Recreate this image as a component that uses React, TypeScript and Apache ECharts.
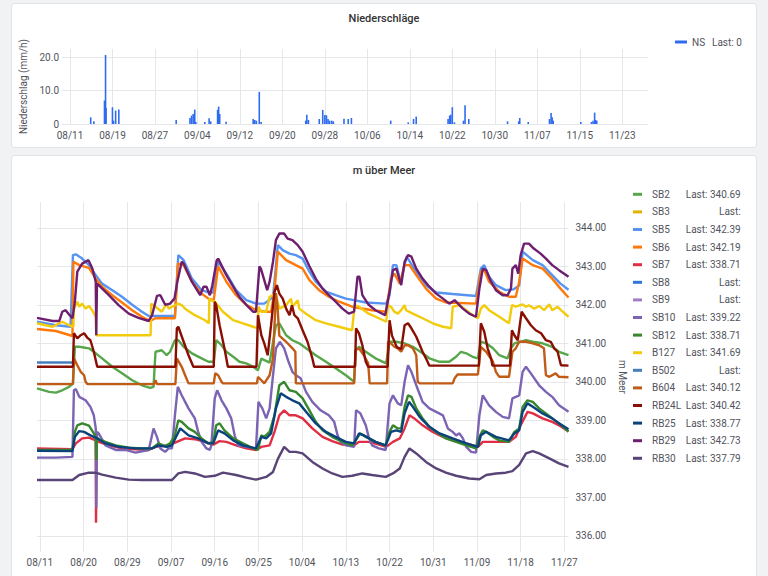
import React, { useEffect, useRef } from "react";
import * as echarts from "echarts";

// ---- axis ticks (x in days since 08/11) ----
const topTickDays = [0, 8, 16, 24, 32, 40, 48, 56, 64, 72, 80, 88, 96, 104];
const topTickLabels = ["08/11", "08/19", "08/27", "09/04", "09/12", "09/20", "09/28", "10/06", "10/14", "10/22", "10/30", "11/07", "11/15", "11/23"];
const bottomTickDays = [0, 9, 18, 27, 36, 45, 54, 63, 72, 81, 90, 99, 108];
const bottomTickLabels = ["08/11", "08/20", "08/29", "09/07", "09/16", "09/25", "10/04", "10/13", "10/22", "10/31", "11/09", "11/18", "11/27"];
const precipTicks = [0, 10, 20];
const levelTicks = [336, 337, 338, 339, 340, 341, 342, 343, 344];

// ---- precipitation (mm/h) ----
const nsData = [
  [3.9, 2.0], [4.5, 0.8], [6.5, 7.0], [6.7, 20.6], [6.8, 4.8], [8.0, 5.0], [8.2, 1.0], [8.6, 4.0], [9.2, 4.3],
  [20.0, 1.2], [22.6, 1.8], [22.9, 2.5], [23.2, 3.0], [23.5, 4.3], [23.7, 0.6], [25.4, 0.6], [26.2, 1.7], [26.5, 0.8],
  [27.8, 4.2], [28.0, 5.2], [28.2, 3.0], [29.4, 0.7], [34.5, 1.5], [34.8, 1.2], [35.1, 1.0], [35.65, 9.6], [36.0, 0.6],
  [44.4, 1.0], [44.6, 2.8], [44.9, 1.2], [46.95, 1.5], [47.6, 4.2], [48.0, 2.7], [48.3, 2.6], [48.6, 1.5], [48.9, 1.0],
  [49.3, 1.0], [49.6, 0.8], [51.6, 1.6], [52.4, 1.5], [53.0, 1.8], [60.4, 1.0], [63.7, 0.5], [64.7, 1.5], [65.2, 2.2],
  [71.2, 1.5], [71.5, 2.5], [71.7, 2.8], [72.0, 5.0], [72.4, 0.5], [74.1, 1.0], [74.4, 5.6], [75.1, 1.5], [82.4, 0.8],
  [84.5, 0.8], [84.7, 1.8], [86.3, 0.6], [90.3, 1.5], [90.6, 3.3], [90.8, 2.0], [91.0, 1.0], [96.2, 0.6], [98.2, 0.6],
  [98.5, 1.0], [98.8, 3.4], [99.0, 1.2], [99.2, 1.0],
];

// ---- water levels (m über Meer) ----
const sb2 = [[-0.6,339.83],[1.9,339.74],[3.3,339.72],[4.6,339.78],[6,339.87],[6.8,339.96],[7.2,340.91],[8.1,340.91],[10.1,340.87],[11.5,340.74],[12.8,340.61],[14.9,340.39],[16.9,340.22],[19,340.04],[21,339.91],[22.7,339.84],[23.4,339.87],[23.8,340.78],[25.1,340.82],[26.1,340.69],[26.8,340.78],[27.8,341.08],[28.5,341.08],[29.6,340.91],[31.3,340.74],[33.3,340.61],[34.7,340.52],[35.8,340.52],[36.3,341.08],[37.4,340.95],[38.4,340.78],[39.8,340.65],[41.1,340.52],[42.5,340.48],[43.9,340.39],[44.9,340.3],[45.6,340.6],[47.3,340.5],[48.6,341.47],[49.3,341.52],[50.7,341.21],[52,341.08],[53.4,341.0],[54.8,340.87],[56.8,340.69],[58.9,340.52],[60.9,340.35],[63,340.17],[64.7,340.0],[65.0,340.82],[65.7,340.91],[67.1,340.78],[69.1,340.61],[71.3,340.48],[72,341.04],[73.4,341.04],[75.1,341.0],[76.8,340.91],[78.8,340.74],[80.2,340.61],[82.3,340.52],[84.3,340.52],[85.7,340.65],[86.7,340.78],[87.8,340.74],[89.1,340.65],[90.2,340.61],[90.8,341.04],[91.9,341.0],[93.3,340.87],[94.6,340.69],[96.3,340.61],[97,340.87],[97.7,341.0],[99,341.04],[100.1,341.08],[101.5,341.04],[103.5,341.0],[105.5,340.91],[106.9,340.78],[108.85,340.69]];
const sb3: number[][] = [];
const sb5 = [[-0.6,341.56],[3.3,341.47],[6.3,341.43],[6.8,343.29],[7.4,343.31],[8.7,343.2],[10.1,343.03],[11.5,342.77],[12.8,342.55],[14.9,342.38],[16.9,342.21],[19,342.0],[21,341.82],[22.4,341.71],[27.8,341.71],[28.5,343.29],[29.6,343.16],[31.3,342.68],[33.3,342.38],[34.7,342.32],[35.7,342.32],[36.7,343.12],[38.4,342.81],[40.4,342.38],[42.5,342.12],[44.5,342.03],[46.2,342.03],[48,342.2],[49,343.55],[50,343.42],[51.4,343.33],[52.7,343.29],[54.1,343.2],[55.5,342.86],[56.8,342.6],[58.9,342.34],[60.9,342.25],[63,342.16],[64.7,342.12],[67.1,342.06],[71.3,342.03],[72,342.25],[72.7,343.03],[73.4,343.03],[74.1,342.68],[74.5,342.7],[75.5,343.25],[77.5,342.86],[79.5,342.51],[81.6,342.32],[85,342.28],[89.8,342.23],[90.8,342.94],[91.5,343.03],[92.5,342.73],[93.9,342.51],[95.9,342.38],[97.5,342.4],[98.7,342.5],[99.4,343.38],[101.5,343.16],[103.5,343.03],[105.5,342.77],[107.2,342.55],[108.85,342.39]];
const sb6 = [[-0.6,341.37],[3.3,341.32],[6.7,341.19],[6.9,343.12],[8.1,343.03],[10.1,342.96],[11.5,342.68],[12.8,342.47],[14.9,342.25],[16.9,342.06],[19,341.86],[21,341.69],[22.7,341.58],[23.8,341.65],[27.8,341.65],[28.4,343.07],[29.6,343.03],[31.3,342.6],[33.3,342.29],[34.7,342.16],[35.8,342.12],[36.7,343.0],[38.4,342.6],[40.4,342.25],[42.5,342.0],[44.5,341.86],[46.6,341.82],[47.6,341.82],[48.3,342.34],[49,343.38],[50.7,343.16],[52.7,343.03],[54.1,342.94],[55.5,342.64],[57.5,342.38],[59.5,342.21],[61.6,342.08],[64.3,341.95],[68.4,341.86],[71.3,341.82],[72.3,342.68],[73,342.81],[74.1,342.55],[75.1,343.03],[76.1,343.03],[77.5,342.77],[79.5,342.42],[81.6,342.16],[83.6,342.06],[89.8,342.03],[90.8,342.86],[91.5,342.9],[92.5,342.6],[94.6,342.34],[96.6,342.21],[98,342.21],[98.7,342.6],[99.4,343.2],[101.5,343.03],[103.5,342.94],[105.5,342.68],[107.2,342.42],[108.85,342.19]];
const sb7 = [[-0.6,338.27],[6.7,338.25],[7.4,338.4],[8.7,338.53],[10.1,338.55],[11.5,338.48],[11.55,336.34],[11.7,338.45],[12.1,338.44],[14.2,338.35],[16.9,338.27],[19.7,338.25],[22.4,338.23],[23.8,338.31],[26.5,338.35],[28.2,338.44],[29.9,338.53],[31.9,338.51],[34,338.44],[35.7,338.37],[37,338.46],[38.4,338.44],[40.4,338.35],[42.5,338.27],[44.5,338.23],[45.6,338.31],[47.3,338.35],[48.3,338.7],[49.3,339.13],[50.3,339.26],[51.4,339.13],[52.7,339.13],[54.1,339.05],[56.1,338.79],[58.2,338.57],[60.2,338.46],[62.3,338.37],[64.7,338.35],[65.7,338.44],[67.7,338.44],[69.8,338.37],[71.3,338.31],[72.7,338.44],[74.1,338.53],[75.1,338.79],[76.1,339.13],[77.1,339.05],[78.8,338.87],[80.9,338.7],[83,338.57],[85,338.48],[87.8,338.4],[90.2,338.31],[91.2,338.44],[94.6,338.44],[96.6,338.44],[98,338.57],[99,338.87],[100.4,339.22],[101.5,339.18],[103.5,339.05],[105.5,338.96],[106.9,338.87],[108.85,338.71]];
const sb8: number[][] = [];
const sb9: number[][] = [];
const sb10 = [[-0.6,338.03],[3.3,338.03],[6.7,338.05],[7.0,339.78],[7.4,339.81],[8.1,339.61],[9.4,339.52],[10.4,339.35],[11.1,339.13],[11.5,338.79],[11.6,336.72],[11.75,338.7],[12.1,338.66],[13.5,338.35],[15.6,338.23],[17.6,338.23],[19.7,338.16],[22.4,338.23],[23.4,338.79],[24.1,338.57],[24.8,338.27],[25.8,338.18],[26.5,338.27],[27.2,338.27],[27.8,339.13],[28.4,339.87],[29.2,339.65],[30.6,339.31],[31.9,339.05],[32.6,338.7],[33.3,338.44],[34.3,338.27],[35,338.23],[35.3,338.35],[36,339.57],[36.5,339.78],[37.4,339.52],[38.4,339.31],[39.4,339.05],[40.1,338.61],[40.8,338.35],[42.5,338.31],[44.5,338.27],[45.0,339.48],[45.8,339.31],[46.6,339.05],[47.3,339.31],[48,340.17],[48.6,340.87],[49.4,341.04],[50.3,340.87],[51.2,340.52],[52,340.26],[52.7,340.17],[53.7,340.09],[54.8,339.74],[56.1,339.48],[57.8,339.26],[59.5,339.13],[60.6,338.96],[61.3,338.61],[61.9,338.44],[63,338.35],[64.7,338.31],[65.1,339.26],[66,339.18],[67.1,338.87],[67.7,338.57],[68.4,338.35],[69.8,338.27],[71.2,338.23],[72,339.44],[72.7,339.65],[73.7,339.44],[74.4,339.39],[75.1,340.0],[75.8,340.43],[76.5,340.26],[77.5,339.91],[78.8,339.48],[80.2,339.31],[81.6,339.22],[83,339.13],[84,338.79],[85,338.7],[85.7,338.61],[86.4,338.66],[87.1,338.53],[87.8,338.31],[88.8,338.18],[89.8,338.16],[90.5,339.13],[91.2,339.65],[92.5,339.39],[93.9,339.22],[95.3,339.09],[96.6,339.05],[97.3,339.57],[98,339.61],[98.7,339.65],[99.4,340.26],[100.1,340.39],[101.1,340.22],[102.8,339.91],[104.2,339.74],[105.5,339.61],[106.9,339.39],[108.85,339.22]];
const sb12 = [[-0.6,338.23],[6.7,338.23],[7.2,338.7],[7.7,338.87],[8.7,338.92],[10.1,338.86],[11.1,338.66],[11.5,338.57],[11.6,337.97],[11.75,338.55],[12.1,338.51],[13.5,338.44],[15.6,338.35],[18.3,338.29],[21,338.27],[23.1,338.27],[24.4,338.4],[25.8,338.33],[26.8,338.4],[27.8,338.61],[28.5,339.0],[29.2,338.96],[30.6,338.79],[31.9,338.7],[33.3,338.53],[34.7,338.4],[35.7,338.44],[36.3,338.87],[37,338.92],[38,338.74],[39.8,338.53],[41.8,338.4],[43.9,338.27],[44.9,338.23],[45.6,338.61],[46.2,338.57],[47.3,338.7],[48.3,339.13],[49.3,339.91],[50.3,340.0],[51.4,339.78],[52.7,339.74],[54.1,339.57],[55.5,339.26],[56.8,338.96],[58.2,338.74],[60.2,338.57],[62.3,338.44],[64.3,338.35],[65,338.48],[66,338.66],[67.1,338.57],[69.1,338.44],[71.2,338.35],[72,338.7],[72.7,338.87],[73.7,338.79],[74.4,338.79],[75.1,339.35],[75.8,339.65],[76.5,339.61],[77.5,339.31],[78.8,339.05],[80.2,338.83],[81.6,338.7],[83.6,338.53],[85.7,338.44],[87.8,338.35],[89.8,338.27],[90.5,338.57],[91.2,338.74],[91.9,338.7],[93.3,338.57],[94.6,338.48],[96.6,338.44],[97.7,338.7],[98.7,338.79],[99.4,339.35],[100.4,339.52],[101.5,339.48],[102.8,339.31],[104.2,339.18],[105.5,339.05],[106.9,338.92],[108.85,338.71]];
const b127 = [[-0.6,341.52],[2.6,341.43],[4.6,341.56],[6,341.47],[6.9,341.43],[7.0,341.9],[7.7,342.08],[8.1,341.95],[8.7,342.03],[9.4,341.9],[10.1,341.97],[10.8,341.85],[11.5,341.69],[11.6,341.21],[22.8,341.21],[22.9,342.03],[23.8,341.95],[25.1,341.82],[26.1,342.03],[26.5,341.9],[27.8,341.99],[28.5,342.03],[29.2,341.99],[29.9,341.9],[31.9,341.73],[34,341.6],[34.8,341.52],[34.9,342.16],[35.5,342.1],[36,342.08],[37.7,341.82],[39.8,341.6],[41.8,341.52],[43.9,341.43],[44.9,341.39],[45.0,341.95],[45.6,341.82],[46.6,341.82],[47.3,342.21],[48,342.25],[48.6,342.25],[49.3,341.9],[50.7,341.99],[51.7,342.16],[52,341.95],[53.1,342.12],[53.4,341.9],[54.8,341.77],[56.8,341.6],[58.9,341.52],[61.6,341.43],[64.3,341.34],[64.8,341.99],[65.7,341.95],[67.7,341.77],[69.8,341.65],[71.3,341.56],[71.7,341.99],[72.3,341.95],[73,341.82],[73.7,341.77],[74.4,341.86],[75.1,341.99],[75.4,341.86],[76.8,341.77],[78.8,341.65],[80.9,341.52],[83,341.43],[84.7,341.39],[85,341.95],[85.7,341.97],[86.4,341.99],[87.8,341.86],[89.1,341.73],[90.2,341.65],[90.8,341.9],[91.5,341.99],[92.5,341.86],[94.6,341.69],[96.6,341.52],[97.2,341.99],[98,341.95],[99.4,342.01],[100.1,341.95],[100.7,341.99],[101.8,341.9],[102.8,341.97],[103.8,341.86],[104.9,342.01],[105.5,341.86],[106.6,341.95],[107.3,341.86],[108.85,341.69]];
const b502 = [[-0.6,340.5],[6.7,340.5]];
const b604 = [[-0.6,339.94],[6.8,339.94],[7.0,340.61],[7.7,340.43],[8.4,340.26],[9.1,340.17],[9.4,340.0],[9.8,339.94],[23.5,339.94],[23.8,340.04],[24.1,339.94],[27.9,339.94],[28.2,340.61],[29.2,340.39],[29.9,340.17],[30.6,339.96],[35.8,339.96],[36.1,340.22],[36.7,340.17],[37.4,340.0],[37.7,339.96],[44.7,339.96],[44.9,340.13],[45.6,340.04],[46.2,339.96],[47.3,340.17],[48,340.61],[48.6,342.3],[48.9,342.0],[49.3,341.2],[50.7,341.04],[52,340.87],[52.6,340.78],[52.7,339.96],[64.7,339.96],[65,340.82],[65.7,340.87],[66.7,340.69],[67.6,340.48],[67.9,339.96],[71.5,339.96],[71.7,341.04],[72.3,341.0],[73,340.91],[73.7,340.87],[74.4,340.78],[75.1,340.95],[75.8,340.95],[76.8,340.87],[77.5,340.69],[77.8,340.0],[78.2,339.96],[85,339.96],[85.4,340.09],[86,340.19],[90.2,340.19],[90.8,340.91],[91.9,340.78],[93.3,340.52],[93.9,340.26],[94.6,340.13],[96.6,340.13],[97.3,340.78],[98,340.87],[98.7,341.04],[100.1,341.04],[101.5,341.0],[102.8,340.95],[103.8,340.87],[104.2,340.17],[104.9,340.13],[106.2,340.22],[106.9,340.13],[108.85,340.12]];
const rb24l = [[-0.6,340.39],[6.8,340.39],[7.0,341.26],[7.7,341.13],[8.4,341.21],[9.1,341.26],[9.8,341.14],[10.4,341.08],[11.1,340.78],[11.8,340.39],[27.9,340.39],[28.2,341.39],[28.5,341.43],[29.6,341.04],[30.6,340.69],[31.6,340.39],[35.8,340.39],[36.0,342.08],[36.3,341.99],[37,341.47],[38,340.87],[38.7,340.39],[44.6,340.39],[44.9,341.73],[45.6,341.21],[46.2,341.0],[46.9,340.69],[47.6,341.47],[48.3,342.34],[48.8,342.51],[49.3,342.29],[50,342.16],[50.7,341.9],[51.4,341.73],[51.9,341.99],[52.4,341.73],[53.1,341.65],[54.1,341.34],[55.1,341.04],[56.1,340.61],[56.5,340.39],[64.9,340.39],[65.1,341.39],[65.7,341.26],[66.4,340.95],[67.1,340.52],[67.6,340.39],[71.6,340.39],[72.0,341.6],[72.5,341.2],[73.5,340.9],[74.4,340.85],[75.1,341.47],[75.8,341.52],[76.5,341.39],[77.5,341.17],[78.8,340.78],[79.5,340.61],[80.2,340.42],[90.4,340.42],[90.8,341.52],[91.5,341.3],[92.2,340.87],[92.9,340.61],[93.2,340.42],[96.8,340.42],[97.2,341.34],[97.7,341.21],[98.4,341.08],[99.2,341.82],[100.1,341.65],[101.1,341.47],[102.1,341.34],[103.2,341.26],[104.2,341.08],[105.2,341.04],[105.9,340.87],[106.6,340.78],[107.3,340.43],[108.85,340.42]];
const rb25 = [[-0.6,338.21],[6.7,338.2],[7.2,338.57],[8.1,338.72],[9.1,338.7],[10.4,338.61],[11.8,338.53],[13.5,338.4],[16.2,338.31],[19.7,338.27],[23.1,338.27],[24.4,338.35],[26.1,338.31],[27.2,338.35],[28.2,338.61],[28.9,338.79],[30.6,338.61],[32.6,338.53],[34.7,338.4],[35.7,338.4],[36.7,338.74],[38,338.66],[39.8,338.48],[41.8,338.35],[44.5,338.27],[45.6,338.57],[46.6,338.53],[47.6,338.66],[48.6,339.31],[49.6,339.7],[50.7,339.61],[52,339.52],[53.4,339.44],[54.8,339.22],[56.8,338.92],[58.9,338.7],[60.9,338.57],[63,338.44],[64.7,338.4],[65.7,338.66],[66.7,338.61],[69.1,338.44],[71.2,338.35],[72.3,338.7],[73.4,338.74],[74.4,338.7],[75.1,339.18],[76,339.48],[76.8,339.35],[78.2,339.09],[80.2,338.83],[82.3,338.66],[85,338.53],[87.8,338.4],[90.2,338.31],[90.8,338.61],[91.9,338.7],[93.9,338.57],[96.6,338.48],[97.7,338.66],[98.7,338.74],[99.4,339.22],[100.4,339.44],[101.5,339.35],[103.5,339.18],[105.5,339.05],[106.9,338.92],[108.85,338.77]];
const rb29 = [[-0.6,341.66],[2.6,341.58],[4,341.58],[4.6,341.82],[5.3,341.86],[6,341.75],[6.7,341.65],[7.2,342.08],[7.7,342.86],[8.7,343.07],[10,343.16],[10.8,342.94],[11.5,342.6],[11.6,341.21],[11.75,342.55],[12.1,342.51],[14.2,342.25],[16.2,341.99],[18.3,341.77],[20.3,341.66],[22.4,341.58],[23.1,341.73],[24.1,342.23],[24.8,342.25],[25.8,342.0],[26.8,342.03],[27.7,342.16],[28.3,342.6],[29.2,343.12],[29.6,343.07],[31.3,342.6],[33,342.25],[33.7,342.47],[34.3,342.47],[35,342.25],[35.5,342.5],[36.4,343.15],[36.7,343.2],[38.4,342.77],[39.8,342.47],[41.1,342.2],[42.5,342.0],[43.9,341.82],[44.5,341.82],[45.2,343.0],[45.5,342.94],[46.2,342.64],[46.8,342.38],[47.3,342.6],[48,343.12],[48.6,343.68],[49.3,343.85],[50.3,343.85],[51,343.72],[52,343.68],[53.1,343.55],[54.1,343.38],[55.5,343.0],[56.8,342.68],[58.2,342.42],[59.5,342.25],[60.9,342.08],[62.3,341.9],[63.6,341.77],[64.7,341.82],[65.4,342.73],[65.8,342.73],[66.4,342.25],[67.7,342.0],[69.1,341.86],[71.1,341.73],[72,342.34],[72.7,342.9],[73.4,342.94],[74.1,342.64],[74.4,342.51],[75.1,343.12],[75.8,343.29],[76.5,343.25],[77.5,342.94],[78.8,342.68],[80.2,342.47],[81.6,342.29],[83,342.16],[84.3,342.03],[85.4,342.12],[86.1,342.03],[87.1,341.9],[88.4,341.77],[89.8,341.69],[90.5,342.42],[91.2,342.94],[91.9,342.9],[92.9,342.6],[93.9,342.38],[95.3,342.25],[96.3,342.25],[97,342.42],[97.3,342.94],[98,343.03],[98.5,342.81],[99,343.29],[99.7,343.59],[100.7,343.59],[101.7,343.46],[103.1,343.33],[104.2,343.2],[105.5,343.03],[106.9,342.9],[108.85,342.73]];
const rb30 = [[-0.6,337.45],[6.7,337.45],[8.1,337.58],[10.1,337.64],[11.5,337.64],[12.8,337.59],[15.6,337.51],[18.3,337.46],[21,337.45],[27.2,337.45],[28.5,337.62],[29.9,337.66],[31.9,337.62],[34,337.53],[36,337.56],[37.7,337.64],[40.4,337.58],[42.5,337.51],[44.5,337.46],[46.6,337.53],[48,337.66],[49,338.0],[50.3,338.31],[51.4,338.18],[52.7,338.18],[54.1,338.14],[56.1,337.92],[58.2,337.75],[60.2,337.62],[62.3,337.53],[64.3,337.56],[66.4,337.62],[68.4,337.58],[71.2,337.53],[72.7,337.62],[74.1,337.75],[75.1,338.05],[76.1,338.27],[77.5,338.14],[79.5,337.92],[81.6,337.75],[83.6,337.64],[85.7,337.56],[88.4,337.49],[90.5,337.47],[91.9,337.58],[93.9,337.62],[95.9,337.64],[97.3,337.68],[98.7,337.84],[100.1,338.14],[101.5,338.2],[102.8,338.14],[104.9,338.01],[106.9,337.88],[108.85,337.79]];

const levelNames = ["SB2", "SB3", "SB5", "SB6", "SB7", "SB8", "SB9", "SB10", "SB12", "B127", "B502", "B604", "RB24L", "RB25", "RB29", "RB30"];
const levelData = [sb2, sb3, sb5, sb6, sb7, sb8, sb9, sb10, sb12, b127, b502, b604, rb24l, rb25, rb29, rb30];
const levelLast = ["340.69", "", "342.39", "342.19", "338.71", "", "", "339.22", "338.71", "341.69", "", "340.12", "340.42", "338.77", "342.73", "337.79"];
const levelColors = ["#56A64B", "#E0B400", "#5794F2", "#FF780A", "#E02F44", "#3274D9", "#A27DC6", "#7B64B4", "#37872D", "#F2CC0C", "#447EBC", "#C15C17", "#890F02", "#0A437C", "#6E1E6E", "#584477"];
const nsLast = "0";
const nsColor = "#2F6BF0";

const FONT = "Roboto, 'Noto Sans', sans-serif";
const TXT = "#52545c";
const GRID = "#e6e7eb";

export default function App() {
  const ref = useRef<HTMLDivElement>(null);
  useEffect(() => {
    if (!ref.current) return;
    const chart = echarts.init(ref.current, undefined, { renderer: "svg" });
    const lastOf = (name: string) => {
      const i = levelNames.indexOf(name);
      const v = i >= 0 ? levelLast[i] : nsLast;
      return v ? `Last: ${v}` : "Last:";
    };
    chart.setOption({
      animation: false,
      backgroundColor: "transparent",
      textStyle: { fontFamily: FONT },
      title: [
        { text: "Niederschläge", left: "center", top: 8, textStyle: { fontSize: 11, fontWeight: 500, color: "#333", fontFamily: FONT } },
        { text: "m über Meer", left: "center", top: 160, textStyle: { fontSize: 11, fontWeight: 500, color: "#333", fontFamily: FONT } },
      ],
      grid: [
        { left: 62, top: 49, width: 586, height: 75, outerBoundsMode: "none" },
        { left: 37, top: 202, width: 531.5, height: 350, outerBoundsMode: "none" },
      ],
      legend: [
        {
          data: ["NS"], orient: "vertical", left: 675, top: 35, padding: 0, itemWidth: 12, itemHeight: 3, icon: "rect",
          selectedMode: false,
          formatter: (n: string) => `{n|${n}}{v|${lastOf(n)}}`,
          textStyle: { fontFamily: FONT, fontSize: 10, color: TXT, lineHeight: 14, rich: { n: { width: 20, fontSize: 10, color: TXT, lineHeight: 14 }, v: { fontSize: 10, color: TXT, lineHeight: 14 } } },
        },
        {
          data: levelNames, orient: "vertical", left: 633, top: 187.3, padding: 0, itemWidth: 9, itemHeight: 3, itemGap: 3.6, icon: "rect",
          selectedMode: false,
          formatter: (n: string) => `{n|${n}}{v|${lastOf(n)}}`,
          textStyle: { fontFamily: FONT, fontSize: 10, color: TXT, lineHeight: 14, rich: { n: { width: 35.7, padding: [0, 0, 0, 5], fontSize: 10, color: TXT, lineHeight: 14 }, v: { width: 53, align: "right", fontSize: 10, color: TXT, lineHeight: 14 } } },
        },
      ],
      xAxis: [
        {
          gridIndex: 0, type: "value", min: -1.5, max: 108.85,
          axisLine: { show: false }, axisTick: { show: false, customValues: topTickDays },
          axisLabel: { customValues: topTickDays, margin: 6, fontSize: 10, color: TXT, fontFamily: FONT, formatter: (v: number) => topTickLabels[topTickDays.indexOf(Math.round(v))] ?? "" },
          splitLine: { show: true, lineStyle: { color: GRID, width: 1 } },
        },
        {
          gridIndex: 1, type: "value", min: -0.6, max: 108.85,
          axisLine: { show: false }, axisTick: { show: false, customValues: bottomTickDays },
          axisLabel: { customValues: bottomTickDays, margin: 5, fontSize: 10, color: TXT, fontFamily: FONT, formatter: (v: number) => bottomTickLabels[bottomTickDays.indexOf(Math.round(v))] ?? "" },
          splitLine: { show: true, lineStyle: { color: GRID, width: 1 } },
        },
      ],
      yAxis: [
        {
          gridIndex: 0, type: "value", min: 0, max: 22.4,
          name: "Niederschlag (mm/h)", nameLocation: "middle", nameGap: 32,
          nameTextStyle: { fontSize: 10, color: TXT, fontFamily: FONT },
          axisLine: { show: false }, axisTick: { show: false, customValues: precipTicks },
          axisLabel: { customValues: precipTicks, margin: 3, fontSize: 10, color: TXT, fontFamily: FONT, formatter: (v: number) => (v === 0 ? "0" : v.toFixed(1)) },
          splitLine: { show: true, lineStyle: { color: GRID, width: 1 } },
        },
        {
          gridIndex: 1, type: "value", position: "right", min: 335.58, max: 344.67,
          name: "m Meer", nameLocation: "middle", nameRotate: -90, nameGap: 48,
          nameTextStyle: { fontSize: 10, color: TXT, fontFamily: FONT },
          axisLine: { show: false }, axisTick: { show: false, customValues: levelTicks },
          axisLabel: { customValues: levelTicks, margin: 7, fontSize: 10, color: TXT, fontFamily: FONT, formatter: (v: number) => v.toFixed(2) },
          splitLine: { show: true, lineStyle: { color: GRID, width: 1 } },
        },
      ],
      series: [
        {
          name: "NS", type: "bar", xAxisIndex: 0, yAxisIndex: 0, data: nsData, barWidth: 1.6,
          itemStyle: { color: nsColor }, emphasis: { disabled: true },
        },
        ...levelNames.map((name, i) => ({
          name, type: "line", xAxisIndex: 1, yAxisIndex: 1, data: levelData[i],
          symbol: "none", showSymbol: false,
          itemStyle: { color: levelColors[i] },
          lineStyle: { color: levelColors[i], width: 2.4 },
          emphasis: { disabled: true },
        })),
      ],
    });
    return () => chart.dispose();
  }, []);

  return (
    <div style={{ position: "fixed", left: 0, top: 0, width: 768, height: 576, background: "#f1f2f4", overflow: "hidden" }}>
      <div style={{ position: "absolute", left: 11, top: 3, width: 744, height: 143, background: "#fff", border: "1px solid #e3e4e7", borderRadius: 3 }} />
      <div style={{ position: "absolute", left: 11, top: 155, width: 744, height: 430, background: "#fff", border: "1px solid #e3e4e7", borderRadius: 3 }} />
      <div ref={ref} style={{ position: "absolute", left: 0, top: 0, width: 768, height: 576 }} />
    </div>
  );
}
